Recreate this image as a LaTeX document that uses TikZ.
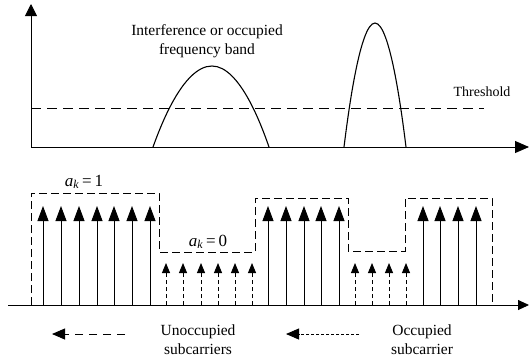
\documentclass[tikz,border=0pt]{standalone}
\usepackage{fontspec}
\setmainfont{Liberation Serif}
\usepackage{tikz}
\usetikzlibrary{arrows.meta}

\begin{document}
\begin{tikzpicture}[
    x=1pt, y=-1pt,
    >={Triangle[length=13pt,width=11pt]},
    lbl/.style={font=\fontsize{15.5}{19}\selectfont,align=center,inner sep=0pt},
    axis/.style={->,line width=0.9pt},
    bump/.style={line width=1.1pt},
    carrier/.style={-{Triangle[length=15pt,width=11pt]},line width=0.9pt},
    idle/.style={-{Triangle[length=10pt,width=8pt]},line width=0.9pt,
                 dash pattern=on 4pt off 3pt},
    envelope/.style={line width=0.9pt,dash pattern=on 8pt off 4pt},
    thresh/.style={line width=0.9pt,dash pattern=on 10pt off 6pt},
  ]
  \useasboundingbox (0,0) rectangle (529,360);

  % --- upper panel: spectrum with the threshold ---
  \coordinate (o1) at (31,147);
  \coordinate (ytop) at (31,4);
  \coordinate (xend1) at (529,147);
  \draw[axis,-{Triangle[length=12pt,width=12pt]}] (o1) -- (ytop);
  \draw[axis,-{Triangle[length=14pt,width=12pt]}] (o1) -- (xend1);
  \draw[thresh] (31,108) -- (484,108);
  \draw[bump] (153,147) parabola bend (212,66) (269,147);
  \draw[bump] (344,147) parabola bend (375,23) (406,147);
  \node[lbl] (band) at (207,41) {Interference or occupied\\frequency band};
  \node[lbl,font=\fontsize{14}{17}\selectfont] (thr) at (482,92) {Threshold};

  % --- lower panel: subcarriers and the a_k envelope ---
  \coordinate (o2) at (8,305);
  \coordinate (xend2) at (529,305);
  \draw[axis,-{Triangle[length=11pt,width=10pt]}] (o2) -- (xend2);
  \draw[envelope] (31,305) -- (31,193) -- (159,193) -- (159,252)
    -- (255,252) -- (255,198) -- (348,198) -- (348,251) -- (405,251)
    -- (405,198) -- (492,198) -- (492,305);
  \foreach \x in {43,61,79,97,114,132,150,268,286,304,321,339,423,440,458,476}
    \draw[carrier] (\x,305) -- (\x,206);
  \foreach \x in {166,183,201,218,235,252,355,372,389,406}
    \draw[idle] (\x,305) -- (\x,263);
  \node[lbl,font=\fontsize{17}{19}\selectfont] (one)  at (84,182)
    {\textit{a\textsubscript{k}}\,=\,1};
  \node[lbl,font=\fontsize{17}{19}\selectfont] (zero) at (208,242)
    {\textit{a\textsubscript{k}}\,=\,0};

  % --- legend ---
  \coordinate (l1s) at (125,334);
  \coordinate (l1e) at (52,334);
  \coordinate (l2s) at (359,334);
  \coordinate (l2e) at (286,334);
  \draw[->,line width=0.9pt,dash pattern=on 8pt off 6pt] (l1s) -- (l1e);
  \draw[->,line width=0.9pt,dash pattern=on 3pt off 2pt] (l2s) -- (l2e);
  \node[lbl] (free) at (198,340) {Unoccupied\\subcarriers};
  \node[lbl] (busy) at (422,340) {Occupied\\subcarrier};
\end{tikzpicture}
\end{document}
